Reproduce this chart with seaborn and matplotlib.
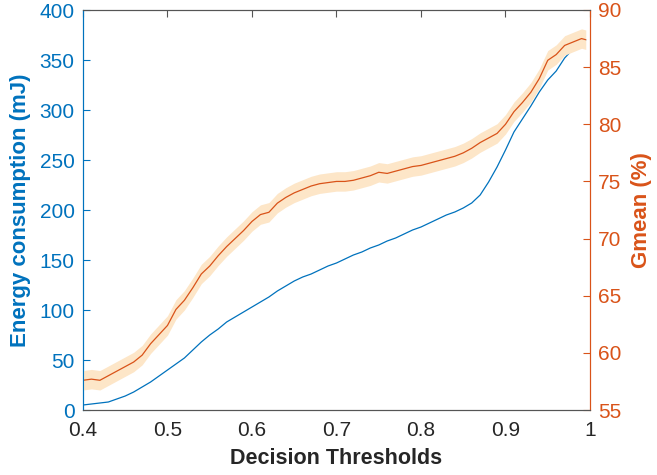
import numpy as np
import pandas as pd
import matplotlib
matplotlib.use('Agg')
import matplotlib.pyplot as plt
import seaborn as sns

# decision thresholds (x)
thresholds = [0.40, 0.41, 0.42, 0.43, 0.44, 0.45, 0.46, 0.47, 0.48, 0.49,
              0.50, 0.51, 0.52, 0.53, 0.54, 0.55, 0.56, 0.57, 0.58, 0.59,
              0.60, 0.61, 0.62, 0.63, 0.64, 0.65, 0.66, 0.67, 0.68, 0.69,
              0.70, 0.71, 0.72, 0.73, 0.74, 0.75, 0.76, 0.77, 0.78, 0.79,
              0.80, 0.81, 0.82, 0.83, 0.84, 0.85, 0.86, 0.87, 0.88, 0.89,
              0.90, 0.91, 0.92, 0.93, 0.94, 0.95, 0.96, 0.97, 0.98, 0.99, 0.995]

# energy consumption (mJ), left axis
energy = [5, 6, 7, 8, 11, 14, 18, 23, 28, 34,
          40, 46, 52, 60, 68, 75, 81, 88, 93, 98,
          103, 108, 113, 119, 124, 129, 133, 136, 140, 144,
          147, 151, 155, 158, 162, 165, 169, 172, 176, 180,
          183, 187, 191, 195, 198, 202, 207, 215, 228, 243,
          260, 278, 291, 304, 318, 330, 339, 352, 361, 367, 370]

# Gmean (%), right axis
gmean = [57.6, 57.7, 57.6, 58.0, 58.4, 58.8, 59.2, 59.8, 60.8, 61.6,
         62.4, 63.8, 64.6, 65.7, 66.9, 67.6, 68.5, 69.3, 70.0, 70.7,
         71.5, 72.1, 72.3, 73.1, 73.6, 74.0, 74.3, 74.6, 74.8, 74.9,
         75.0, 75.0, 75.1, 75.3, 75.5, 75.8, 75.7, 75.9, 76.1, 76.3,
         76.4, 76.6, 76.8, 77.0, 77.2, 77.5, 77.9, 78.4, 78.8, 79.2,
         80.0, 81.1, 81.9, 82.8, 84.0, 85.6, 86.1, 86.9, 87.2, 87.5, 87.4]

# half width of the shaded Gmean band
gmean_spread = [0.85] * len(gmean)

energy_ticks = [0, 50, 100, 150, 200, 250, 300, 350, 400]
gmean_ticks = [55, 60, 65, 70, 75, 80, 85, 90]
x_ticks = [0.4, 0.5, 0.6, 0.7, 0.8, 0.9, 1.0]
x_ticklabels = ['0.4', '0.5', '0.6', '0.7', '0.8', '0.9', '1']

blue = '#0072BD'
orange = '#D95319'
band = '#FDE6C8'
dark = '#262626'

df = pd.DataFrame({'threshold': thresholds, 'energy': energy, 'gmean': gmean})
lo = np.array(gmean) - np.array(gmean_spread)
hi = np.array(gmean) + np.array(gmean_spread)

sns.set_style('white')
plt.rcParams['font.family'] = ['Liberation Sans', 'DejaVu Sans']

fig = plt.figure(figsize=(6.57, 4.75), dpi=100)
ax = fig.add_axes([83 / 657, 1 - 410 / 475, 507 / 657, 400 / 475])
ax2 = ax.twinx()

sns.lineplot(data=df, x='threshold', y='energy', ax=ax, color=blue, linewidth=0.9)
ax2.fill_between(thresholds, lo, hi, color=band, linewidth=0)
sns.lineplot(data=df, x='threshold', y='gmean', ax=ax2, color=orange, linewidth=0.9)

ax.set_xlim(0.4, 1.0)
ax.set_ylim(0, 400)
ax2.set_ylim(55, 90)

ax.set_xticks(x_ticks)
ax.set_xticklabels(x_ticklabels)
ax.set_yticks(energy_ticks)
ax2.set_yticks(gmean_ticks)

ax.tick_params(axis='x', direction='in', length=5, width=0.8, colors='#555555',
               labelcolor=dark, labelsize=15, top=True, pad=8)
ax.tick_params(axis='y', direction='in', length=5, width=0.8, colors=blue,
               labelcolor=blue, labelsize=15, pad=6)
ax2.tick_params(axis='y', direction='in', length=5, width=0.8, colors=orange,
                labelcolor=orange, labelsize=15, pad=6)

for a in (ax, ax2):
    a.spines['top'].set_color('#555555')
    a.spines['bottom'].set_color('#555555')
    a.spines['left'].set_color(blue)
    a.spines['right'].set_color(orange)
    for s in a.spines.values():
        s.set_linewidth(0.8)

ax.set_xlabel('Decision Thresholds', fontsize=15.5, fontweight='bold', color=dark, labelpad=6)
ax.set_ylabel('Energy consumption (mJ)', fontsize=16, fontweight='bold', color=blue, labelpad=6)
ax2.set_ylabel('Gmean (%)', fontsize=16, fontweight='bold', color=orange, labelpad=7)

fig.savefig('out.png', dpi=100)
